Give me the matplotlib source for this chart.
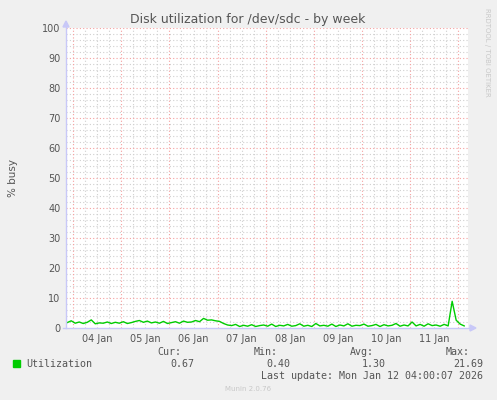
import numpy as np
import matplotlib.pyplot as plt

# munin week graph, hours counted from 04 Jan 00:00
start_hour = -3
step_hours = 2
utilization = [
    1.8, 2.4, 1.6, 2.0, 1.5, 1.9, 2.7, 1.4, 1.7, 1.6, 2.0, 1.5, 1.9,
    1.6, 2.1, 1.5, 1.8, 2.2, 2.5, 1.9, 2.3, 1.7, 2.0, 1.6, 2.2, 1.5,
    1.8, 2.1, 1.6, 2.3, 1.9, 2.0, 2.5, 2.1, 3.2, 2.6, 2.7, 2.4,
    2.2, 1.5, 1.0, 0.8, 1.2, 0.5, 0.9, 0.6, 1.1, 0.5, 0.8, 1.0,
    0.6, 1.3, 0.5, 0.9, 0.7, 1.2, 0.6, 0.8, 1.4, 0.6, 0.9, 0.5,
    1.5, 0.7, 0.9, 0.6, 1.3, 0.5, 1.0, 0.7, 1.4, 0.6, 0.9, 0.8,
    1.3, 0.6, 0.8, 1.2, 0.5, 1.1, 0.7, 0.9, 1.5, 0.6, 1.0, 0.7,
    2.0, 0.7, 1.2, 0.6, 1.4, 0.8, 1.0, 0.6, 1.2, 0.7,
    8.9, 2.6, 1.3, 0.7,
]
day_labels = ['04 Jan', '05 Jan', '06 Jan', '07 Jan', '08 Jan', '09 Jan', '10 Jan', '11 Jan']
legend_name = 'Utilization'
stats_names = ['Cur:', 'Min:', 'Avg:', 'Max:']
stats_values = ['0.67', '0.40', '1.30', '21.69']

hours = start_hour + step_hours * np.arange(len(utilization))

W, H = 497, 400
fig = plt.figure(figsize=(W / 100, H / 100), dpi=100, facecolor='#F0F0F0')
ax = fig.add_axes([66 / W, 1 - 328 / H, (468 - 66) / W, 300 / H])
ax.set_facecolor('white')
ax.set_xlim(-3.6, 196.9)
ax.set_ylim(0, 100)

# grid: minor grey, major red, all dotted
for h in np.arange(-0, 200, 6):
    if h % 24:
        ax.axvline(h, color='#D0D0D0', lw=0.8, ls=(0, (1, 2)), zorder=0)
for h in np.arange(0, 200, 24):
    ax.axvline(h, color='#F5A0A0', lw=0.8, ls=(0, (1, 2)), zorder=1)
for v in np.arange(2, 100, 2):
    if v % 10:
        ax.axhline(v, color='#D0D0D0', lw=0.8, ls=(0, (1, 2)), zorder=0)
for v in np.arange(10, 101, 10):
    ax.axhline(v, color='#F5A0A0', lw=0.8, ls=(0, (1, 2)), zorder=1)

ax.plot(hours, utilization, color='#00CC00', lw=1.0, zorder=3)

for s in ax.spines.values():
    s.set_visible(False)
ax.tick_params(length=0, labelsize=7, colors='#555555', pad=4)
ax.set_yticks(np.arange(0, 101, 10))
ax.set_xticks(12 + 24 * np.arange(len(day_labels)))
ax.set_xticklabels(day_labels)
ax.set_ylabel('% busy', fontsize=7.5, color='#555555', labelpad=17)

# axis lines with arrow tips
fig.add_artist(plt.Line2D([66 / W, 66 / W], [1 - 328 / H, 1 - 24 / H], color='#C8C8F8', lw=1))
fig.add_artist(plt.Line2D([63 / W, 472 / W], [1 - 328 / H, 1 - 328 / H], color='#C8C8F8', lw=1))
fig.add_artist(plt.Polygon([[63 / W, 1 - 27 / H], [69 / W, 1 - 27 / H], [66 / W, 1 - 21 / H]],
                           closed=True, color='#C8C8F8'))
fig.add_artist(plt.Polygon([[470 / W, 1 - 325 / H], [470 / W, 1 - 331 / H], [476 / W, 1 - 328 / H]],
                           closed=True, color='#C8C8F8'))

fig.text(248 / W, 1 - 19 / H, 'Disk utilization for /dev/sdc - by week', ha='center', va='center',
         fontsize=9, color='#555555')
fig.text(487 / W, 1 - 52 / H, 'RRDTOOL / TOBI OETIKER', rotation=270, ha='center', va='center',
         fontsize=5, color='#C8C8C8')

mono = dict(family='DejaVu Sans Mono', fontsize=7.2, color='#555555')
fig.add_artist(plt.Rectangle((13 / W, 1 - 367 / H), 7 / W, 7 / H, color='#00CC00'))
fig.text(26 / W, 1 - 364 / H, legend_name, ha='left', va='center', **mono)
name_right = [181, 278, 374, 470]
value_right = [194, 290, 386, 483]
for n, v, xn, xv in zip(stats_names, stats_values, name_right, value_right):
    fig.text(xn / W, 1 - 352 / H, n, ha='right', va='center', **mono)
    fig.text(xv / W, 1 - 364 / H, v, ha='right', va='center', **mono)
fig.text(483 / W, 1 - 376 / H, 'Last update: Mon Jan 12 04:00:07 2026', ha='right', va='center', **mono)
fig.text(248 / W, 1 - 389 / H, 'Munin 2.0.76', ha='center', va='center', fontsize=5, color='#C8C8C8')

fig.savefig('out.png', dpi=100, facecolor=fig.get_facecolor())
